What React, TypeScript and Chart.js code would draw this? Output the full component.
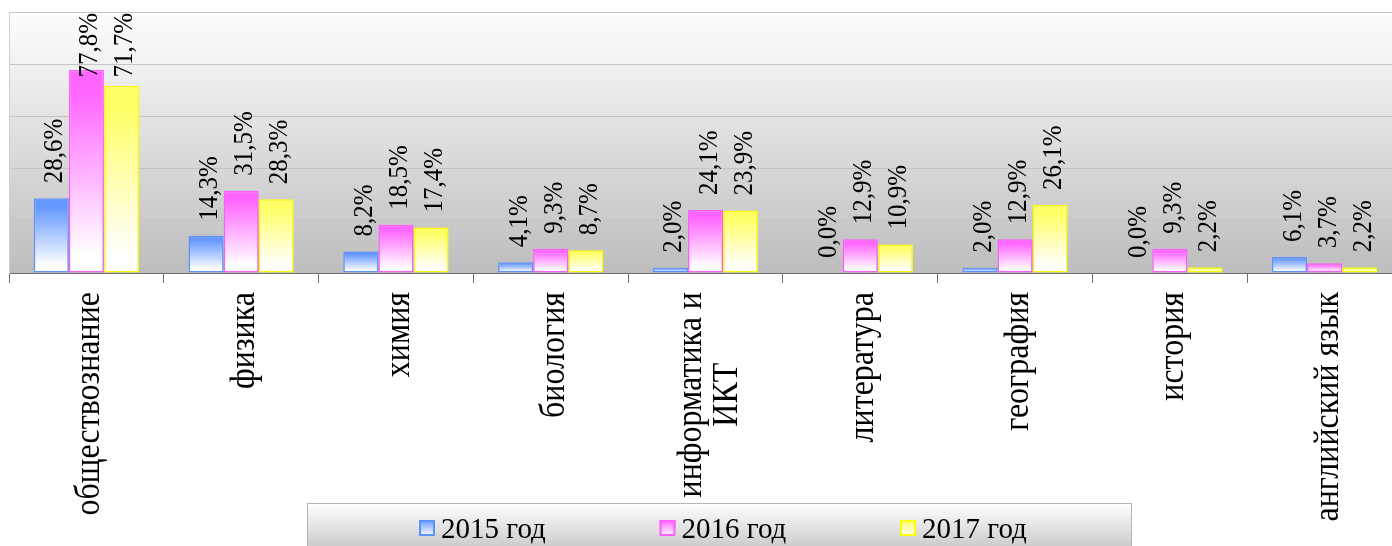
import React, { useEffect, useRef } from "react";
import { Chart, registerables } from "chart.js";

Chart.register(...registerables);

const categories: (string | string[])[] = [
  "обществознание",
  "физика",
  "химия",
  "биология",
  ["информатика и", "ИКТ"],
  "литература",
  "география",
  "история",
  "английский язык",
];

const seriesNames = ["2015 год", "2016 год", "2017 год"];
const values2015 = [28.6, 14.3, 8.2, 4.1, 2.0, 0.0, 2.0, 0.0, 6.1];
const values2016 = [77.8, 31.5, 18.5, 9.3, 24.1, 12.9, 12.9, 9.3, 3.7];
const values2017 = [71.7, 28.3, 17.4, 8.7, 23.9, 10.9, 26.1, 2.2, 2.2];
const yTicks = [0, 20, 40, 60, 80, 100];

const fillColors = ["#6699ff", "#ff66ff", "#ffff66"];
const borderColors = ["#5f90ff", "#ff5cff", "#ffff00"];

const SERIF = "'Liberation Serif', 'Times New Roman', serif";

function barGradient(idx: number) {
  return (ctx: any) => {
    const chart = ctx.chart;
    const y = chart.scales?.y;
    if (!chart.chartArea || !y || ctx.raw == null) return fillColors[idx];
    const top = y.getPixelForValue(ctx.raw);
    const base = y.getPixelForValue(0);
    const g = chart.ctx.createLinearGradient(0, top, 0, Math.max(base, top + 1));
    g.addColorStop(0, fillColors[idx]);
    g.addColorStop(0.12, fillColors[idx]);
    g.addColorStop(0.9, "#ffffff");
    g.addColorStop(1, "#ffffff");
    return g;
  };
}

const bgPlugin = {
  id: "plotBg",
  beforeDraw(chart: any) {
    const { ctx, chartArea: a } = chart;
    if (!a) return;
    const g = ctx.createLinearGradient(0, a.top, 0, a.bottom);
    g.addColorStop(0, "#fefefe");
    g.addColorStop(1, "#bdbdbd");
    ctx.save();
    ctx.fillStyle = g;
    ctx.fillRect(a.left, a.top, a.right - a.left, a.bottom - a.top);
    ctx.restore();
  },
};

const labelsPlugin = {
  id: "customLabels",
  afterDraw(chart: any) {
    const { ctx, chartArea } = chart;
    const xScale = chart.scales.x;
    // data labels
    chart.data.datasets.forEach((ds: any, di: number) => {
      const meta = chart.getDatasetMeta(di);
      meta.data.forEach((el: any, i: number) => {
        const v = ds.data[i];
        const txt = v.toFixed(1).replace(".", ",") + "%";
        ctx.save();
        ctx.font = `25px ${SERIF}`;
        const w = ctx.measureText(txt).width;
        let start = el.y - 15;
        if (start - w < chartArea.top + 1) start = chartArea.top + 1 + w;
        ctx.translate(el.x + 11, start);
        ctx.rotate(-Math.PI / 2);
        ctx.scale(1, 1.08);
        ctx.fillStyle = "#000";
        ctx.textAlign = "left";
        ctx.textBaseline = "alphabetic";
        ctx.fillText(txt, 0, 0);
        ctx.restore();
      });
    });
    // category labels
    const topY = chartArea.bottom + 19;
    categories.forEach((lab, i) => {
      const lines = Array.isArray(lab) ? lab : [lab];
      const cx = xScale.getPixelForValue(i);
      ctx.save();
      ctx.font = `32px ${SERIF}`;
      const maxW = Math.max(...lines.map((l) => ctx.measureText(l).width));
      lines.forEach((line, j) => {
        const bx = cx + 13 + (j - (lines.length - 1) / 2) * 36;
        ctx.save();
        ctx.translate(bx, topY);
        ctx.rotate(-Math.PI / 2);
        ctx.scale(1, 1.12);
        ctx.fillStyle = "#000";
        ctx.textAlign = "center";
        ctx.textBaseline = "alphabetic";
        ctx.fillText(line, -maxW / 2, 0);
        ctx.restore();
      });
      ctx.restore();
    });
    // legend
    const lx = 299.5, ly = 495.5, lw = 824, lh = 60;
    ctx.save();
    const lg = ctx.createLinearGradient(0, ly, 0, ly + lh);
    lg.addColorStop(0, "#ffffff");
    lg.addColorStop(1, "#b8b8b8");
    ctx.fillStyle = lg;
    ctx.fillRect(lx, ly, lw, lh);
    ctx.strokeStyle = "#b4b4b4";
    ctx.lineWidth = 1;
    ctx.strokeRect(lx, ly, lw, lh);
    seriesNames.forEach((name, k) => {
      const sx = 411 + k * 240.5;
      const sy = 512;
      const sg = ctx.createLinearGradient(0, sy, 0, sy + 16);
      sg.addColorStop(0, fillColors[k]);
      sg.addColorStop(1, "#ffffff");
      ctx.fillStyle = sg;
      ctx.fillRect(sx, sy, 16, 16);
      ctx.strokeStyle = borderColors[k];
      ctx.lineWidth = 2;
      ctx.strokeRect(sx + 1, sy + 1, 14, 14);
      ctx.fillStyle = "#000";
      ctx.font = `29px ${SERIF}`;
      ctx.textAlign = "left";
      ctx.textBaseline = "alphabetic";
      ctx.fillText(name, sx + 22, 530);
    });
    ctx.restore();
  },
};

export default function App() {
  const ref = useRef<HTMLCanvasElement>(null);
  useEffect(() => {
    if (!ref.current) return;
    const series = [values2015, values2016, values2017];
    const chart = new Chart(ref.current, {
      type: "bar",
      data: {
        labels: categories as any,
        datasets: series.map((d, i) => ({
          label: seriesNames[i],
          data: d,
          backgroundColor: barGradient(i),
          borderColor: borderColors[i],
          borderWidth: 1.5,
          borderSkipped: false,
          categoryPercentage: 0.68,
          barPercentage: 1.0,
        })),
      },
      options: {
        responsive: false,
        animation: false,
        events: [],
        layout: { padding: { left: 1, right: 6, top: 4, bottom: 263 } },
        plugins: {
          legend: { display: false },
          tooltip: { enabled: false },
          title: { display: false },
        },
        scales: {
          x: {
            grid: {
              offset: true,
              drawOnChartArea: false,
              drawTicks: true,
              tickLength: 10,
              color: "#6e6e6e",
            },
            border: { display: true, color: "#6e6e6e", width: 1 },
            ticks: { display: false },
          },
          y: {
            min: 0,
            max: 100,
            afterBuildTicks: (axis: any) => {
              axis.ticks = yTicks.map((v) => ({ value: v }));
            },
            grid: { color: "#c4c4c4", drawTicks: false },
            border: { display: true, color: "#d0d0d0" },
            ticks: { display: false },
          },
        },
      },
      plugins: [bgPlugin, labelsPlugin],
    });
    return () => chart.destroy();
  }, []);
  return (
    <div
      style={{
        position: "fixed",
        left: 0,
        top: 0,
        width: 1392,
        height: 546,
        overflow: "hidden",
        background: "#fff",
      }}
    >
      <canvas
        ref={ref}
        width={1400}
        height={538}
        style={{ display: "block", position: "absolute", left: 8, top: 8 }}
      />
    </div>
  );
}
